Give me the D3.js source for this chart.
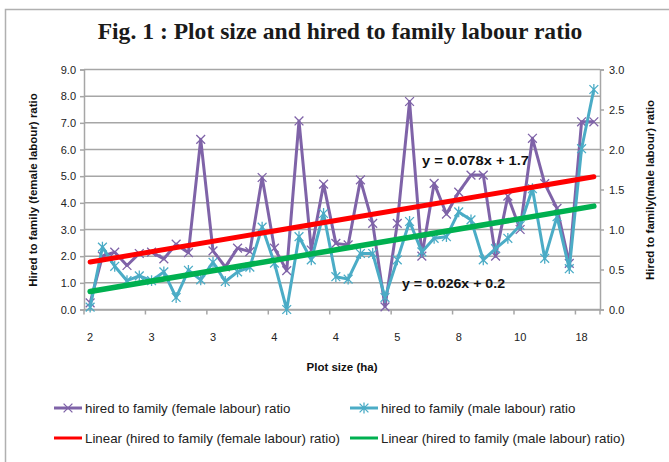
<!DOCTYPE html>
<html><head><meta charset="utf-8">
<script src="https://cdn.jsdelivr.net/npm/d3@7"></script>
<style>body{margin:0;background:#fff}svg{display:block}</style>
</head><body>
<svg id="c" width="669" height="462"></svg>
<script>
const femaleRatio = [0.25,2.0,2.15,1.65,2.1,2.15,1.9,2.45,2.13,6.38,2.2,1.6,2.3,2.17,4.95,2.3,1.46,7.07,2.23,4.7,2.48,2.42,4.86,3.23,0.1,3.23,7.8,2.0,4.73,3.58,4.4,5.04,5.04,2.0,4.25,3.0,6.42,4.72,3.79,1.73,7.04,7.04];
const maleRatio = [0.03,0.78,0.54,0.36,0.42,0.36,0.47,0.15,0.49,0.37,0.59,0.35,0.47,0.53,1.03,0.58,0.0,0.91,0.62,1.2,0.41,0.38,0.7,0.7,0.15,0.62,1.1,0.72,0.89,0.91,1.22,1.12,0.62,0.76,0.89,1.05,1.51,0.64,1.16,0.51,2.01,2.75];
const tickIndex = [0,5,10,15,20,25,30,35,40];
const tickLabels = ["2","3","3","4","4","5","8","10","18"];
const leftTicks = [0,1,2,3,4,5,6,7,8,9];
const rightTicks = [0,0.5,1,1.5,2,2.5,3];
const femaleTrend = [0.078, 1.7];
const maleTrend = [0.026, 0.2];
const seriesNames = ["hired to family (female labour) ratio","hired to family (male labour) ratio","Linear (hired to family (female labour) ratio)","Linear (hired to family (male labour) ratio)"];

const svg = d3.select("#c");
const C = {purple:"#7f63a8", cyan:"#4bacc6", red:"#ff0000", green:"#00b050", grid:"#a6a6a6"};
const FONT = "Liberation Sans, Arial, sans-serif";
const n = femaleRatio.length;
const x = d3.scaleBand().domain(d3.range(n)).range([84,600]);
const cx = i => x(i) + x.bandwidth()/2;
const yL = d3.scaleLinear().domain([0,9]).range([309.5,69.5]);
const yR = d3.scaleLinear().domain([0,3]).range([309.5,69.5]);

// chart border
svg.append("rect").attr("x",5.5).attr("y",9.5).attr("width",700).attr("height",500)
  .attr("fill","none").attr("stroke","#b0b0b0").attr("stroke-width",1.5);

// title
svg.append("text").attr("x",340).attr("y",38.5).attr("text-anchor","middle")
  .attr("font-family","Liberation Serif, Times New Roman, serif").attr("font-weight","bold")
  .attr("font-size",23.6).attr("fill","#1a1a1a").text("Fig. 1 : Plot size and hired to family labour ratio");

// gridlines
svg.append("g").selectAll("line").data(leftTicks).join("line")
  .attr("x1",84).attr("x2",600).attr("y1",d=>yL(d)).attr("y2",d=>yL(d))
  .attr("stroke",C.grid).attr("stroke-width",1.5);

// left axis
const gL = svg.append("g").attr("transform","translate(84,0)")
  .call(d3.axisLeft(yL).tickValues(leftTicks).tickFormat(d3.format(".1f")).tickSize(4).tickPadding(4));
// right axis
const gR = svg.append("g").attr("transform","translate(600,0)")
  .call(d3.axisRight(yR).tickValues(rightTicks).tickFormat(d3.format(".1f")).tickSize(4).tickPadding(5));
// bottom axis
const bot = d3.axisBottom(x).tickValues([]).tickSize(0);
const gB = svg.append("g").attr("transform","translate(0,309.5)").call(bot);
gB.selectAll(".tick-b").data(tickIndex.concat([n])).join("line")
  .attr("x1",d=>x.step()*d+84).attr("x2",d=>x.step()*d+84).attr("y1",0).attr("y2",5)
  .attr("stroke",C.grid).attr("stroke-width",1.5);
gB.selectAll(".lab").data(tickIndex).join("text")
  .attr("x",d=>cx(d)).attr("y",31).attr("text-anchor","middle")
  .attr("font-family",FONT).attr("font-size",11).attr("fill","#222")
  .text((d,i)=>tickLabels[i]);
[gL,gR,gB].forEach(g=>{
  g.select(".domain").attr("stroke",C.grid).attr("stroke-width",1.5);
  g.selectAll(".tick line").attr("stroke",C.grid).attr("stroke-width",1.5);
  g.selectAll(".tick text").attr("font-family",FONT).attr("font-size",11).attr("fill","#222");
});

// axis titles
svg.append("text").attr("transform","translate(37,190) rotate(-90)").attr("text-anchor","middle")
  .attr("font-family",FONT).attr("font-weight","bold").attr("font-size",11.5).attr("fill","#111")
  .text("Hired to family  (female labour) ratio");
svg.append("text").attr("transform","translate(654,190) rotate(-90)").attr("text-anchor","middle")
  .attr("font-family",FONT).attr("font-weight","bold").attr("font-size",11.5).attr("fill","#111")
  .text("Hired to family(male  labour) ratio");
svg.append("text").attr("x",342).attr("y",371).attr("text-anchor","middle")
  .attr("font-family",FONT).attr("font-weight","bold").attr("font-size",11.5).attr("fill","#111")
  .text("Plot size  (ha)");

// markers
function xMark(g, px, py, col, star){
  const s=4.4;
  g.append("path").attr("d",`M${px-s},${py-s}L${px+s},${py+s}M${px-s},${py+s}L${px+s},${py-s}`+(star?`M${px},${py-s-1}L${px},${py+s+1}`:""))
    .attr("stroke",col).attr("stroke-width",1.3).attr("fill","none");
}

// female series
const lineF = d3.line().x((d,i)=>cx(i)).y(d=>yL(d));
svg.append("path").datum(femaleRatio).attr("d",lineF).attr("fill","none")
  .attr("stroke",C.purple).attr("stroke-width",3).attr("stroke-linejoin","round");
const gMF = svg.append("g");
femaleRatio.forEach((d,i)=>xMark(gMF,cx(i),yL(d),C.purple,false));

// male series (secondary axis)
const lineM = d3.line().x((d,i)=>cx(i)).y(d=>yR(d));
svg.append("path").datum(maleRatio).attr("d",lineM).attr("fill","none")
  .attr("stroke",C.cyan).attr("stroke-width",3).attr("stroke-linejoin","round");
const gMM = svg.append("g");
maleRatio.forEach((d,i)=>xMark(gMM,cx(i),yR(d),C.cyan,true));

// trend lines
const ends = [0, n-1];
svg.append("line").attr("x1",cx(ends[0])).attr("x2",cx(ends[1]))
  .attr("y1",yL(femaleTrend[0]*1+femaleTrend[1])).attr("y2",yL(femaleTrend[0]*n+femaleTrend[1]))
  .attr("stroke",C.red).attr("stroke-width",5).attr("stroke-linecap","round");
svg.append("line").attr("x1",cx(ends[0])).attr("x2",cx(ends[1]))
  .attr("y1",yR(maleTrend[0]*1+maleTrend[1])).attr("y2",yR(maleTrend[0]*n+maleTrend[1]))
  .attr("stroke",C.green).attr("stroke-width",5.5).attr("stroke-linecap","round");

// equations
svg.append("text").attr("x",422).attr("y",165).attr("font-family",FONT).attr("font-weight","bold")
  .attr("font-size",13.5).attr("textLength",107).attr("lengthAdjust","spacingAndGlyphs")
  .attr("fill","#111").text("y = 0.078x + 1.7");
svg.append("text").attr("x",402).attr("y",288).attr("font-family",FONT).attr("font-weight","bold")
  .attr("font-size",13.5).attr("textLength",103).attr("lengthAdjust","spacingAndGlyphs")
  .attr("fill","#111").text("y = 0.026x + 0.2");

// legend
const leg = [
  {x:54, y:408, col:C.purple, mark:"x", w:3},
  {x:350, y:408, col:C.cyan, mark:"*", w:3},
  {x:54, y:438, col:C.red, mark:null, w:3},
  {x:350, y:438, col:C.green, mark:null, w:3}
];
const gLeg = svg.append("g");
leg.forEach((l,i)=>{
  gLeg.append("line").attr("x1",l.x).attr("x2",l.x+28).attr("y1",l.y).attr("y2",l.y)
    .attr("stroke",l.col).attr("stroke-width",l.w);
  if(l.mark) xMark(gLeg,l.x+14,l.y,l.col,l.mark==="*");
  gLeg.append("text").attr("x",l.x+31).attr("y",l.y+4.8).attr("font-family",FONT)
    .attr("font-size",13.3).attr("fill","#222").text(seriesNames[i]);
});
</script>
</body></html>
